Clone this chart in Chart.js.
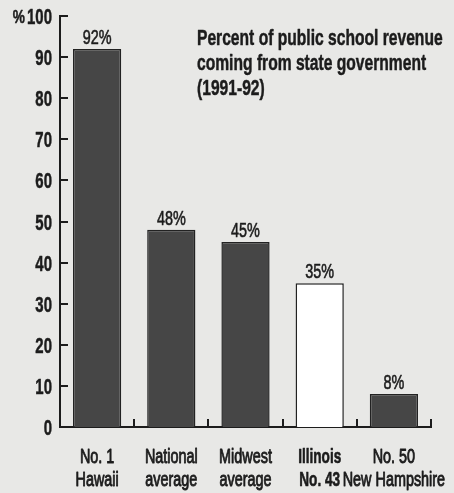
<!DOCTYPE html>
<html>
<head>
<meta charset="utf-8">
<script src="https://cdn.jsdelivr.net/npm/chart.js@4"></script>
<style>
  html, body { margin: 0; padding: 0; background: #e8e8e6; }
  #wrap { width: 454px; height: 493px; }
</style>
</head>
<body>
<div id="wrap"><canvas id="c" width="454" height="493"></canvas></div>
<script>
// Share of public school revenue that comes from state government, 1991-92
const categories = [
  ["No. 1", "Hawaii"],
  ["National", "average"],
  ["Midwest", "average"],
  ["Illinois", "No. 43"],
  ["No. 50", "New Hampshire"]
];
const stateShare = [92, 48, 45, 35, 8];
const yTickValues = [0, 10, 20, 30, 40, 50, 60, 70, 80, 90, 100];
const yUnit = "%";
const titleLines = [
  "Percent of public school revenue",
  "coming from state government",
  "(1991-92)"
];
const highlightIndex = 3; // Illinois

const FAMILY = '"Liberation Sans", Arial, sans-serif';
const INK = '#1c1c1c';

// Text squeezed horizontally to get a condensed look
function narrowText(ctx, text, x, y, font, sx, align, stroke) {
  ctx.save();
  ctx.font = font;
  ctx.textAlign = 'left';
  ctx.textBaseline = 'alphabetic';
  const w = ctx.measureText(text).width * sx;
  const x0 = align === 'center' ? x - w / 2 : align === 'right' ? x - w : x;
  ctx.translate(x0, y);
  ctx.scale(sx, 1);
  ctx.fillStyle = INK;
  ctx.fillText(text, 0, 0);
  if (stroke) {
    ctx.strokeStyle = INK;
    ctx.lineWidth = stroke;
    ctx.lineJoin = 'round';
    ctx.strokeText(text, 0, 0);
  }
  ctx.restore();
}

// Inward tick marks, axis labels, value labels and the title block
const decorations = {
  id: 'decorations',
  afterDatasetsDraw(chart) {
    const ctx = chart.ctx;
    const x = chart.scales.x;
    const y = chart.scales.y;
    const area = chart.chartArea;
    ctx.save();
    ctx.strokeStyle = INK;
    ctx.lineWidth = 2;

    // y ticks pointing into the plot, labels to the left
    yTickValues.forEach(v => {
      const py = Math.round(y.getPixelForValue(v));
      ctx.beginPath();
      ctx.moveTo(area.left, py);
      ctx.lineTo(area.left + 8, py);
      ctx.stroke();
      narrowText(ctx, String(v), area.left - 8, py + 8, 'bold 22px ' + FAMILY, 0.68, 'right', 0.5);
    });
    const topY = Math.round(y.getPixelForValue(yTickValues[yTickValues.length - 1]));
    narrowText(ctx, yUnit, 25, topY + 7, 'bold 19px ' + FAMILY, 0.72, 'right', 0.5);

    // x ticks at category boundaries, pointing up; category labels below
    const step = x.getPixelForValue(1) - x.getPixelForValue(0);
    categories.forEach((lines, i) => {
      const cx = x.getPixelForValue(i);
      const px = Math.round(cx + step / 2);
      ctx.beginPath();
      ctx.moveTo(px, area.bottom);
      ctx.lineTo(px, area.bottom - 8);
      ctx.stroke();
      const bold = i === highlightIndex;
      lines.forEach((line, j) => {
        narrowText(ctx, line, cx, area.bottom + 36 + j * 23,
          (bold ? 'bold ' : '') + '20px ' + FAMILY, bold ? 0.68 : 0.72, 'center', bold ? 0.6 : 0.9);
      });
    });

    // value labels above bars
    const meta = chart.getDatasetMeta(0);
    meta.data.forEach((bar, i) => {
      narrowText(ctx, stateShare[i] + '%', bar.x, bar.y - 5, '20px ' + FAMILY, 0.72, 'center', 0.6);
    });

    // title
    titleLines.forEach((line, i) => {
      narrowText(ctx, line, 197, 45 + i * 25, 'bold 22px ' + FAMILY, 0.71, 'left', 0.5);
    });
    ctx.restore();
  }
};

new Chart(document.getElementById('c'), {
  type: 'bar',
  data: {
    labels: categories.map(l => l.join(' ')),
    datasets: [{
      data: stateShare,
      backgroundColor: stateShare.map((_, i) => i === highlightIndex ? '#ffffff' : '#464646'),
      borderColor: '#222222',
      borderWidth: 1.5,
      borderSkipped: 'bottom',
      barPercentage: 0.65,
      categoryPercentage: 1.0
    }]
  },
  options: {
    responsive: false,
    animation: false,
    devicePixelRatio: 1,
    layout: { padding: { top: 16, right: 23, left: 0, bottom: 0 } },
    plugins: {
      legend: { display: false },
      tooltip: { enabled: false },
      title: { display: false }
    },
    scales: {
      x: {
        offset: true,
        grid: { display: false },
        border: { display: true, color: INK, width: 2 },
        ticks: { display: false },
        afterFit: s => { s.height = 66; }
      },
      y: {
        min: 0,
        max: 100,
        grid: { display: false },
        border: { display: true, color: INK, width: 2 },
        ticks: { display: false, stepSize: 10 },
        afterFit: s => { s.width = 60; }
      }
    }
  },
  plugins: [decorations]
});
</script>
</body>
</html>
